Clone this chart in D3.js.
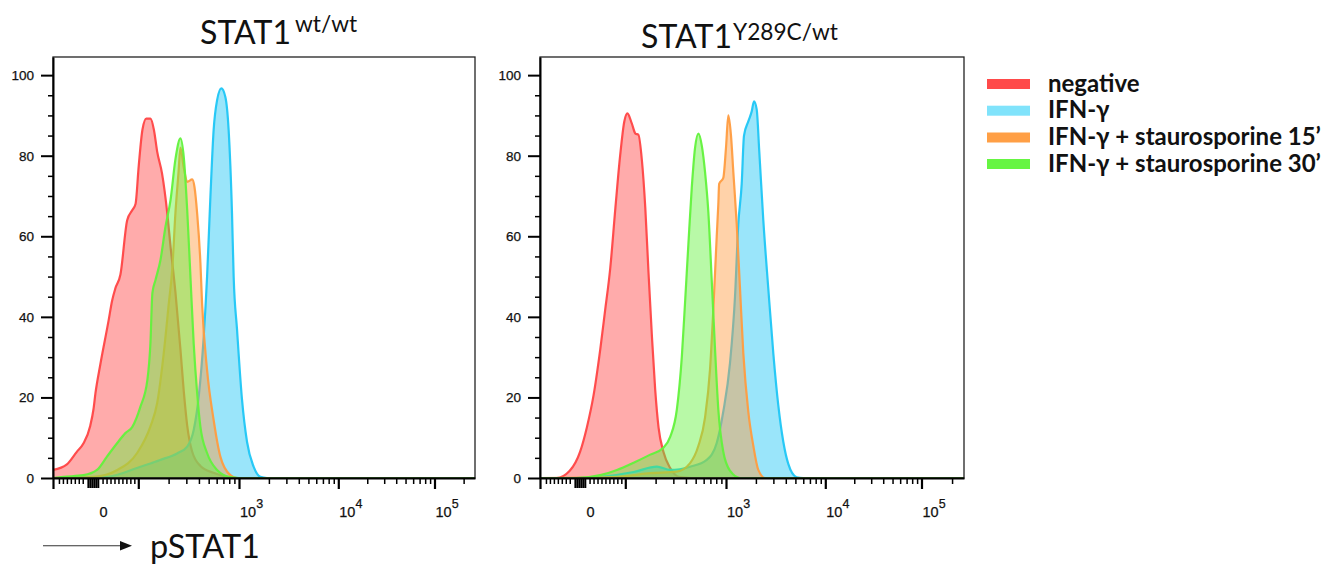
<!DOCTYPE html>
<html><head><meta charset="utf-8">
<script src="https://cdn.jsdelivr.net/npm/d3@7"></script>
<style>body{margin:0;background:#fff}</style>
</head><body>
<svg id="c" width="1333" height="564"></svg>
<script>
// ---------------- data ----------------
const seriesNames = ["negative", "IFN-γ", "IFN-γ + staurosporine 15’", "IFN-γ + staurosporine 30’"];
const seriesColors = ["#ff4545", "#1fc6f5", "#ff9c40", "#62f23c"];
const legendColors = ["#ff4a4a", "#80e3fb", "#ff9f45", "#66f542"];
const titleMain = ["STAT1", "STAT1"];
const titleSup = ["wt/wt", "Y289C/wt"];
const xAxisTitle = "pSTAT1";

// [fluorescence, % of max]
const wtNegative = [[-115,2.0],[-80,3.4],[-55,6.5],[-38,8.6],[-21,13],[-13,17],[-8,21],[4,28],[25,39],[34,44],[42,47],[55,50.5],[72,64],[85,66.5],[93,68],[101,77.5],[110,86.5],[120,89.2],[132,89.2],[143,86.4],[154,81],[172,75.6],[194,65.7],[209,57.5],[234,46],[262,32],[283,21.5],[306,13],[343,6.5],[414,3.0],[557,1.3],[760,0.3],[920,0],[262144,0]];
const wtIFN = [[-115,0],[21,0.3],[105,2.8],[132,3.6],[166,4.5],[243,6.1],[306,7.8],[355,11.9],[398,20.2],[446,35],[482,50],[520,69.8],[560,86.4],[606,93.8],[668,96.7],[732,94.6],[789,86.4],[852,65.8],[885,50],[955,37],[1072,19.5],[1204,9],[1403,2.8],[1639,0.3],[1914,0],[262144,0]];
const wtStauro15 = [[-115,0],[-13,0.3],[47,2.0],[97,6.2],[132,12.8],[154,18.6],[179,31],[201,43.4],[217,51.6],[234,66],[251,76],[262,82],[283,77],[306,73.5],[343,74.1],[361,72.3],[384,65.7],[414,53.3],[430,43.3],[482,26.8],[560,14.4],[653,5.3],[820,0.7],[955,0],[262144,0]];
const wtStauro30 = [[-115,0],[-88,0.3],[-38,0.7],[-4,2.0],[21,5.3],[47,8.7],[68,11.2],[85,12.7],[105,17.7],[123,24.3],[132,33.5],[138,45.9],[148,49.1],[166,54.1],[186,62.3],[209,69],[234,79.2],[262,84.3],[283,79.6],[306,66.5],[330,49.6],[355,33.3],[384,21.1],[414,12.7],[482,6.2],[606,2.0],[820,0.2],[1000,0],[262144,0]];

const mutNegative = [[-115,0],[-73,0],[-40,1.8],[-14,6.5],[3,12.5],[20,20.5],[37,32],[49,41.5],[62,52],[75,67],[87,80],[97.5,88.5],[105,90.5],[116,88],[126,85.5],[135,85.2],[146,79],[158,67],[170,51],[184,35],[198,22],[214,12.5],[239,6.5],[279,2.5],[350,0.2],[450,0],[262144,0]];
const mutIFN = [[-115,0],[-32,0],[37,0.3],[121,1.5],[206,2.8],[279,2.0],[440,2.8],[644,4.5],[809,8.7],[940,16.5],[1097,28.5],[1232,45],[1330,63],[1439,73],[1518,85],[1677,88.5],[1815,91],[1914,93.5],[2038,91.5],[2164,81],[2375,64],[2667,47],[2994,31],[3363,18],[3776,9],[4240,3.5],[5152,0.2],[6000,0],[262144,0]];
const mutStauro15 = [[-115,0],[79,0.3],[177,1.2],[325,1.6],[440,3.7],[532,8],[619,15],[694,27],[749,42],[809,60],[839,68],[855,73],[940,74.5],[1000,82],[1055,90],[1123,85],[1185,76],[1282,63],[1384,47],[1494,31],[1677,16.5],[1884,8],[2115,2],[2471,0],[262144,0]];
const mutStauro30 = [[-115,0],[-22,0],[37,0.7],[79,2.0],[121,3.8],[177,5.8],[239,7.5],[279,10.2],[325,17],[364,30],[393,44],[423,58],[457,72],[493,82],[532,85.5],[575,82.5],[619,76],[668,66],[722,49],[778,32],[839,17],[940,6.5],[1097,1.8],[1384,0],[262144,0]];

const panelSeries = [
  [wtNegative, wtIFN, wtStauro15, wtStauro30],
  [mutNegative, mutIFN, mutStauro15, mutStauro30]
];

const yMajorTicks = [0, 20, 40, 60, 80, 100];
const yMinorTicks = [5,10,15,25,30,35,45,50,55,65,70,75,85,90,95];
const xMajorTicks = [-115, 100, 1000, 10000, 100000];
const xClusterTicks = [-27, -22, -17, -12, -7, -2];
const xMinorTicks = [-100,-90,-80,-70,-60,-50,-40,10,20,30,40,50,60,70,80,90,
  200,300,400,500,600,700,800,900,2000,3000,4000,5000,6000,7000,8000,9000,
  20000,30000,40000,50000,60000,70000,80000,90000,200000];
const xTickLabels = [{v:0, base:"0", sup:""},{v:1000, base:"10", sup:"3"},{v:10000, base:"10", sup:"4"},{v:100000, base:"10", sup:"5"}];

// ---------------- scales ----------------
const XMIN = -115, XMAX = 262144;
function u(v) { return v >= 100 ? Math.log10(v) : 1 + v / 100; }   // logicle-like display transform
const U = [u(XMIN), 1, 2, 3, 4, 5, u(XMAX)];
const Rrel = [0, 45.6, 85.3, 186, 285.3, 381.5];
function makeX(x0, w) {
  const lin = d3.scaleLinear().domain(U).range(Rrel.map(r => x0 + r).concat([x0 + w]));
  const s = v => lin(u(v));
  s.copy = () => makeX(x0, w);
  s.range = () => [x0, x0 + w];
  s.domain = () => [XMIN, XMAX];
  return s;
}
const Y0 = 478, YTOP = 57;
const y = d3.scaleLinear().domain([0, 104.5]).range([Y0, YTOP]);

const layout = [
  {x0: 53, w: 422, tX: 200, tY: 44, sX: 295, sY: 31.5},
  {x0: 540, w: 424, tX: 641, tY: 48, sX: 733, sY: 40}
];

const svg = d3.select("#c");
const tickFont = "'Liberation Sans', Arial, sans-serif";
const textFont = "Lato, 'Open Sans', sans-serif";

layout.forEach((L, p) => {
  const x = makeX(L.x0, L.w);
  const g = svg.append("g");
  const cid = "clip" + p;
  svg.append("clipPath").attr("id", cid).append("rect")
    .attr("x", L.x0).attr("y", YTOP).attr("width", L.w).attr("height", Y0 - YTOP);

  const area = d3.area().x(d => x(d[0])).y0(Y0).y1(d => y(d[1])).curve(d3.curveMonotoneX);
  const line = d3.line().x(d => x(d[0])).y(d => y(d[1])).curve(d3.curveMonotoneX);
  const plot = g.append("g").attr("clip-path", `url(#${cid})`);
  panelSeries[p].forEach((data, i) => {
    plot.append("path").attr("d", area(data)).attr("fill", seriesColors[i]).attr("fill-opacity", 0.45);
    plot.append("path").attr("d", line(data)).attr("fill", "none").attr("stroke", seriesColors[i])
      .attr("stroke-width", 2.2).attr("stroke-opacity", 0.95).attr("stroke-linejoin", "round");
  });

  // frame
  g.append("rect").attr("x", L.x0).attr("y", YTOP).attr("width", L.w).attr("height", Y0 - YTOP)
    .attr("fill", "none").attr("stroke", "#222").attr("stroke-width", 1.3);

  // y axis
  const ya = g.append("g").attr("transform", `translate(${L.x0},0)`)
    .call(d3.axisLeft(y).tickValues(yMajorTicks).tickSize(12).tickPadding(7).tickSizeOuter(0));
  ya.select(".domain").attr("stroke", "#000").attr("stroke-width", 2);
  ya.selectAll(".tick line").attr("stroke", "#000").attr("stroke-width", 2);
  ya.selectAll(".tick text").attr("font-family", tickFont).attr("font-size", 13.5).attr("fill", "#111")
    .attr("stroke", "#111").attr("stroke-width", 0.25);
  const ym = g.append("g").attr("transform", `translate(${L.x0},0)`)
    .call(d3.axisLeft(y).tickValues(yMinorTicks).tickSize(5).tickFormat(""));
  ym.select(".domain").remove();
  ym.selectAll(".tick line").attr("stroke", "#000").attr("stroke-width", 1.5);

  // x axis
  const xa = g.append("g").attr("transform", `translate(0,${Y0})`)
    .call(d3.axisBottom(x).tickValues(xMajorTicks).tickSize(11).tickFormat("").tickSizeOuter(0));
  xa.select(".domain").attr("stroke", "#000").attr("stroke-width", 2);
  xa.selectAll(".tick line").attr("stroke", "#000").attr("stroke-width", 2.2);
  const xc = g.append("g").attr("transform", `translate(0,${Y0})`)
    .call(d3.axisBottom(x).tickValues(xClusterTicks).tickSize(10).tickFormat(""));
  xc.select(".domain").remove();
  xc.selectAll(".tick line").attr("stroke", "#000").attr("stroke-width", 2);
  const xm = g.append("g").attr("transform", `translate(0,${Y0})`)
    .call(d3.axisBottom(x).tickValues(xMinorTicks).tickSize(6).tickFormat(""));
  xm.select(".domain").remove();
  xm.selectAll(".tick line").attr("stroke", "#000").attr("stroke-width", 1.5);

  xTickLabels.forEach(t => {
    const tx = g.append("text").attr("font-family", tickFont).attr("font-size", 14.5).attr("fill", "#111")
      .attr("stroke", "#111").attr("stroke-width", 0.25).attr("y", 517);
    if (t.sup === "") {
      tx.attr("x", x(t.v) + 5).attr("text-anchor", "middle").text(t.base);
    } else {
      tx.attr("x", x(t.v) + 1).attr("text-anchor", "start");
      tx.append("tspan").text(t.base);
      tx.append("tspan").attr("font-size", 12.5).attr("dy", -9).text(t.sup);
    }
  });
});

// ---------- titles (fit to measured widths) ----------
function fitSize(sel, target) {
  const w = sel.node().getComputedTextLength();
  return parseFloat(sel.attr("font-size")) * target / w;
}
const mains = layout.map((L, p) => svg.append("text").attr("x", L.tX).attr("y", L.tY)
  .attr("font-family", textFont).attr("font-size", 30).attr("fill", "#111").text(titleMain[p]));
const mainSize = fitSize(mains[0], 91);
mains.forEach(m => m.attr("font-size", mainSize));
const sups = layout.map((L, p) => svg.append("text").attr("x", L.sX).attr("y", L.sY)
  .attr("font-family", textFont).attr("font-size", 20).attr("fill", "#111").text(titleSup[p]));
const supSize = fitSize(sups[1], 105);
sups.forEach(s => s.attr("font-size", supSize));

// ---------- x axis title with arrow ----------
svg.append("line").attr("x1", 43).attr("x2", 121).attr("y1", 545.7).attr("y2", 545.7)
  .attr("stroke", "#333").attr("stroke-width", 1.1);
svg.append("path").attr("d", "M120,541 L132,545.7 L120,550.4 Z").attr("fill", "#111");
const xt = svg.append("text").attr("x", 150).attr("y", 558).attr("font-family", textFont)
  .attr("font-size", 28).attr("fill", "#111").text(xAxisTitle);
xt.attr("font-size", fitSize(xt, 110));

// ---------- legend ----------
const lg = svg.append("g");
const rowY = [84, 110.7, 137.5, 164];
const legTexts = [];
seriesNames.forEach((n, i) => {
  lg.append("rect").attr("x", 987).attr("y", rowY[i] - 5).attr("width", 43).attr("height", 10)
    .attr("fill", legendColors[i]);
  legTexts.push(lg.append("text").attr("x", 1048).attr("y", rowY[i] + 7.5)
    .attr("font-family", textFont).attr("font-weight", "bold").attr("font-size", 20)
    .attr("fill", "#111").text(n));
});
const legSize = fitSize(legTexts[3], 273);
legTexts.forEach(t => t.attr("font-size", legSize));
</script>
</body></html>
